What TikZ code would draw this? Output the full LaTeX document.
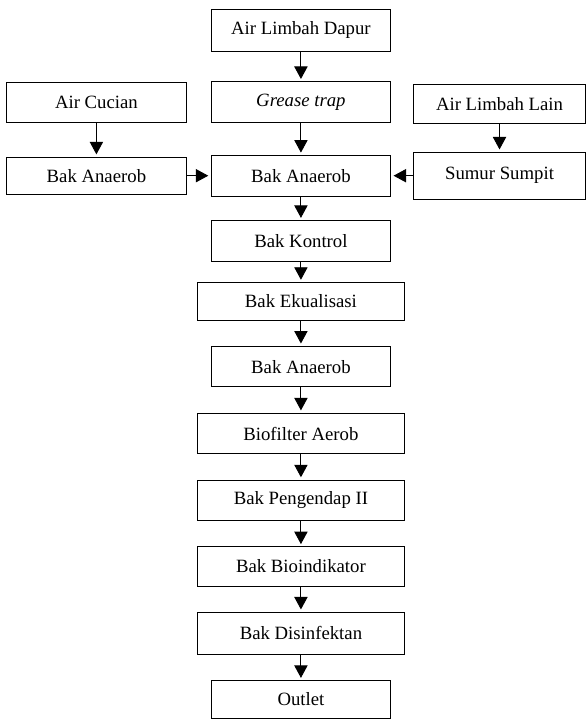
\documentclass[tikz,border=0pt]{standalone}
\usepackage{fontspec}
\setmainfont{Liberation Serif}
\usetikzlibrary{arrows.meta}
\usetikzlibrary{positioning}

\begin{document}
\begin{tikzpicture}[%
        every node/.style={rectangle, draw, line width=0.6pt, minimum width=115pt, minimum height=26pt, inner sep=2pt, font=\fontsize{12pt}{14pt}\selectfont},
        wide/.style={minimum width=133pt},
        line width=0.6pt,
        shorten >=1.5pt,
        node distance=16.2pt, >={Triangle[width=8.5pt,length=8pt]}
      ]
      \useasboundingbox (-192.6pt,19.5pt) rectangle (183pt,-441.3pt);
      \node [] (0) [minimum height=27.5pt] {Air Limbah Dapur};
      \node [] (1) [below=18.5pt of 0] {\textit{Grease trap}};
      \node [] (2) [below=20.5pt of 1] {Bak Anaerob};
      \node [] (3) [left=15.3pt of 1, minimum height=25.6pt] {Air Cucian};
      \node [] (4) [left=15.3pt of 2, minimum height=23.7pt] {Bak Anaerob};
      \node [] (5) [right=14pt of 2, minimum width=110pt, minimum height=30pt] {Sumur Sumpit};
      \node [] (6) [above=17.6pt of 5, minimum width=110pt, minimum height=25pt] {Air Limbah Lain};
      \node [] (7) [below=15.2pt of 2] {Bak Kontrol};
      \node [] (8) [below=13pt of 7, wide, minimum height=24pt] {Bak Ekualisasi};
      \node [] (9) [below=of 8] {Bak Anaerob};
      \node [] (10) [below=of 9, wide] {Biofilter Aerob};
      \node [] (11) [below=of 10, wide] {Bak Pengendap II};
      \node [] (12) [below=of 11, wide, minimum height=25pt] {Bak Bioindikator};
      \node [] (13) [below=of 12, wide, minimum height=27pt] {Bak Disinfektan};
      \node [] (14) [below=of 13, minimum height=24pt] {Outlet};
      \path [draw] (0) edge[->] (1)
      (1) edge[->] (2)
      (3) edge[->] (4)
      (4) edge[->] (2)
      (6) edge[->] (5)
      (5) edge[->] (2)
      (2) edge[->] (7)
      (7) edge[->] (8)
      (8) edge[->] (9)
      (9) edge[->] (10)
      (10) edge[->] (11)
      (11) edge[->] (12)
      (12) edge[->] (13)
      (13) edge[->] (14);
    \end{tikzpicture}
\end{document}
